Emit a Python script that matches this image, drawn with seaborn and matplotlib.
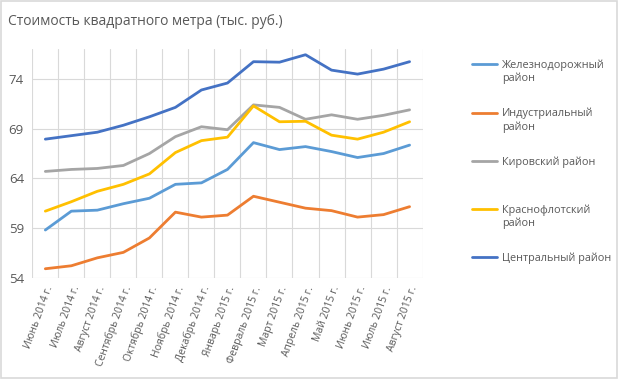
import matplotlib
matplotlib.use('Agg')
import matplotlib.pyplot as plt
import seaborn as sns
import pandas as pd
from matplotlib.patches import Rectangle

months = ["Июнь 2014 г.", "Июль 2014 г.", "Август 2014 г.", "Сентябрь 2014 г.",
          "Октябрь 2014 г.", "Ноябрь 2014 г.", "Декабрь 2014 г.", "Январь 2015 г.",
          "Февраль 2015 г.", "Март 2015 г.", "Апрель 2015 г.", "Май 2015 г.",
          "Июнь 2015 г.", "Июль 2015 г.", "Август 2015 г."]

zheleznodorozhny = [58.8, 60.7, 60.8, 61.45, 62.0, 63.4, 63.55, 64.9, 67.6, 66.9,
                    67.2, 66.7, 66.1, 66.5, 67.35]
industrialny = [54.9, 55.2, 56.0, 56.55, 58.0, 60.6, 60.1, 60.3, 62.2, 61.6,
                61.0, 60.75, 60.1, 60.35, 61.15]
kirovsky = [64.7, 64.9, 65.0, 65.3, 66.5, 68.2, 69.2, 68.9, 71.4, 71.15,
            69.95, 70.4, 69.95, 70.35, 70.9]
krasnoflotsky = [60.7, 61.65, 62.7, 63.4, 64.45, 66.6, 67.8, 68.15, 71.3, 69.7,
                 69.75, 68.35, 67.95, 68.65, 69.7]
centralny = [67.95, 68.3, 68.65, 69.35, 70.2, 71.15, 72.9, 73.6, 75.75, 75.7,
             76.45, 74.9, 74.5, 75.0, 75.75]

series = {
    "Железнодорожный\nрайон": zheleznodorozhny,
    "Индустриальный\nрайон": industrialny,
    "Кировский район": kirovsky,
    "Краснофлотский\nрайон": krasnoflotsky,
    "Центральный район": centralny,
}
colors = ["#5B9BD5", "#ED7D31", "#A5A5A5", "#FFC000", "#4472C4"]

rows = []
for name, vals in series.items():
    for i, v in enumerate(vals):
        rows.append({"idx": i, "value": v, "district": name})
df = pd.DataFrame(rows)

sns.set_style("white")
plt.rcParams['font.family'] = ['Open Sans', 'DejaVu Sans']
text_color = "#595959"

fig = plt.figure(figsize=(6.18, 3.79), dpi=100)
ax = fig.add_axes([0.0523, 0.2673, 0.6315, 0.6027])

sns.lineplot(data=df, x="idx", y="value", hue="district", palette=colors,
             linewidth=2.0, ax=ax, legend=True)

ax.set_xlim(-0.5, 14.5)
ax.set_ylim(54, 77)
ax.set_yticks([54, 59, 64, 69, 74])
ax.set_xticks(range(len(months)))
ax.set_xticks([i - 0.5 for i in range(len(months) + 1)], minor=True)
ax.set_xticklabels(months, rotation=70, ha="right", rotation_mode="anchor",
                   fontsize=7.5, color=text_color)
ax.tick_params(axis="y", labelsize=9.5, colors=text_color, length=0, pad=6)
ax.tick_params(axis="x", which="both", length=0, pad=5)
ax.grid(axis="y", color="#D9D9D9", linewidth=0.8)
ax.grid(axis="x", which="minor", color="#D9D9D9", linewidth=0.8)
ax.grid(axis="x", which="major", visible=False)
ax.set_axisbelow(True)
for s in ax.spines.values():
    s.set_visible(False)
ax.set_xlabel("")
ax.set_ylabel("")

handles, labels = ax.get_legend_handles_labels()
labels = [l if "\n" in l else l + "\n " for l in labels]
leg = ax.legend(handles, labels, loc="upper left", bbox_to_anchor=(1.116, 0.975),
                frameon=False, fontsize=7.8, labelspacing=2.2, handlelength=2.3,
                handletextpad=0.45, borderaxespad=0)
for t in leg.get_texts():
    t.set_color(text_color)
for h in leg.get_lines():
    h.set_linewidth(2.0)
    h.set_ydata([y + 5.5 for y in h.get_ydata()])

fig.text(0.013, 0.943, "Стоимость квадратного метра (тыс. руб.)",
         fontsize=10, color=text_color, va="center", ha="left")

fig.patches.append(Rectangle((0.002, 0.003), 0.996, 0.994, transform=fig.transFigure,
                             fill=False, edgecolor="#D9D9D9", linewidth=1.2))

fig.savefig("out.png", dpi=100)
